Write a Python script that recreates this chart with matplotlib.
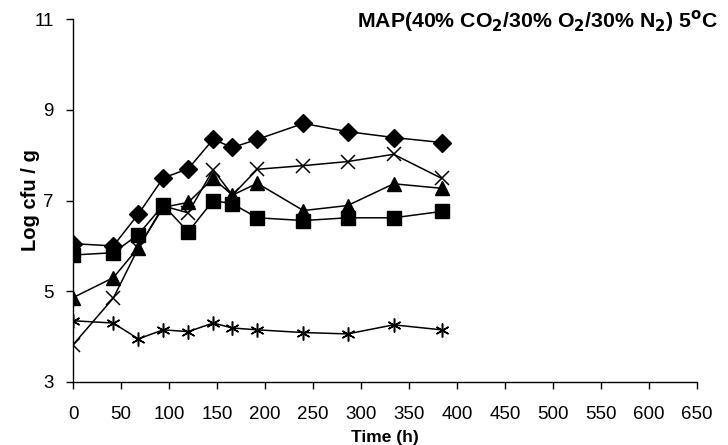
import matplotlib
matplotlib.use('Agg')
import matplotlib.pyplot as plt

plt.rcParams['font.family'] = ['Liberation Sans', 'DejaVu Sans']

# storage time (h)
time_h = [0, 42, 68, 94, 120, 146, 166, 192, 240, 286, 334, 384]

# log cfu/g for each count
diamond = [6.05, 6.0, 6.7, 7.5, 7.7, 8.35, 8.17, 8.35, 8.7, 8.52, 8.39, 8.28]
square = [5.8, 5.85, 6.25, 6.9, 6.31, 7.0, 6.93, 6.62, 6.56, 6.62, 6.62, 6.76]
triangle = [4.86, 5.3, 5.96, 6.85, 6.96, 7.49, 7.12, 7.38, 6.78, 6.89, 7.37, 7.27]
cross = [3.82, 4.85, 5.95, 6.88, 6.73, 7.68, 7.12, 7.69, 7.77, 7.86, 8.02, 7.49]
star = [4.35, 4.3, 3.95, 4.15, 4.11, 4.3, 4.19, 4.15, 4.09, 4.06, 4.26, 4.15]

x_ticks = list(range(0, 651, 50))
y_ticks = [3, 5, 7, 9, 11]

fig = plt.figure(figsize=(7.28, 4.45), dpi=100)
ax = fig.add_axes([0.1003, 0.1416, 0.8571, 0.8154])

ax.plot(time_h, diamond, color='black', lw=1.1, marker='D', markersize=9.5)
ax.plot(time_h, square, color='black', lw=1.1, marker='s', markersize=9.5)
ax.plot(time_h, triangle, color='black', lw=1.1, marker='^', markersize=10)
ax.plot(time_h, cross, color='black', lw=1.1, marker='x', markersize=9.5,
        markeredgewidth=1.1)
ax.plot(time_h, star, color='black', lw=1.1, marker=(6, 2, 0), markersize=10,
        markeredgewidth=1.1)

ax.set_xlim(0, 650)
ax.set_ylim(3, 11)
ax.set_xticks(x_ticks)
ax.set_yticks(y_ticks)
ax.tick_params(axis='both', labelsize=13.5, length=5, width=1, direction='out')
ax.tick_params(axis='x', pad=12)
ax.tick_params(axis='y', pad=9)

for side in ['top', 'right']:
    ax.spines[side].set_visible(False)
for side in ['left', 'bottom']:
    ax.spines[side].set_linewidth(1)

ax.set_xlabel('Time (h)', fontsize=12.5, fontweight='bold', labelpad=5)
ax.set_ylabel('Log cfu / g', fontsize=14.5, fontweight='bold', labelpad=-4)

fig.text(0.987, 0.952, r'MAP(40% CO$_\mathbf{2}$/30% O$_\mathbf{2}$/30% N$_\mathbf{2}$) 5$^\mathbf{o}$C',
         ha='right', va='center', fontsize=15.3, fontweight='bold')

fig.savefig('out.png', dpi=100)
